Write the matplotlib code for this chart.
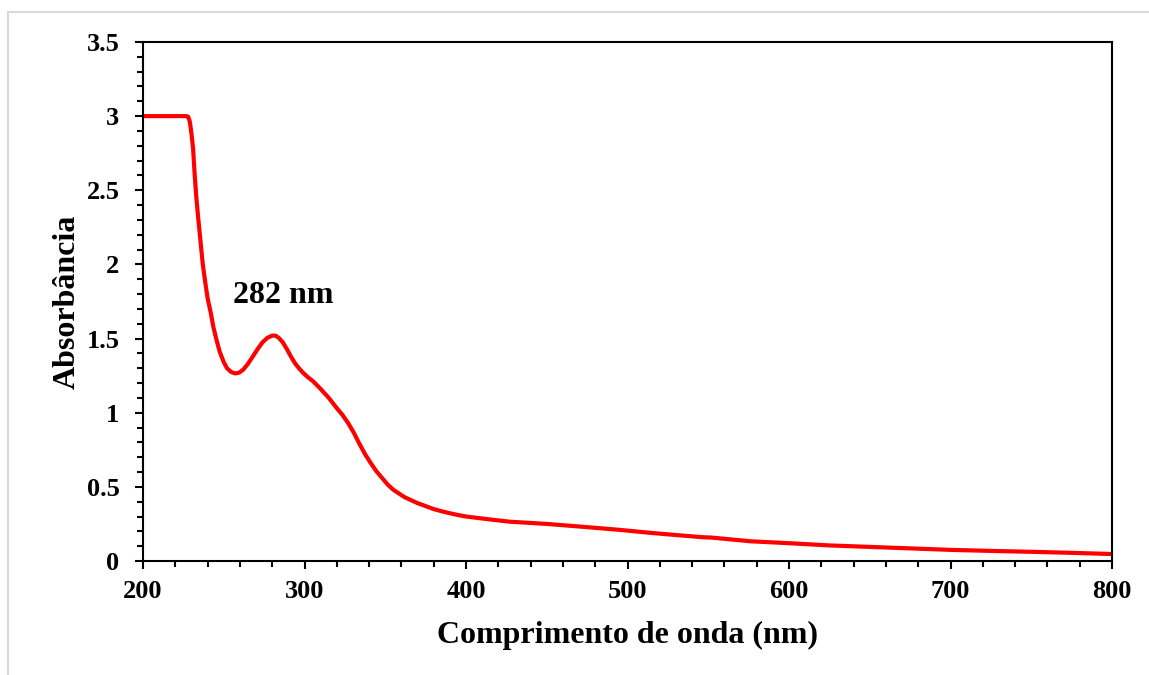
import matplotlib
matplotlib.use("Agg")
import matplotlib.pyplot as plt
from matplotlib.lines import Line2D
from matplotlib.ticker import MultipleLocator

# Spectrum (wavelength in nm, absorbance)
wavelength = [200, 215, 227, 228, 229, 230, 231, 232, 233, 234, 235, 236, 237,
              238.5, 240, 242, 243.5, 245.5, 247.5, 250, 252, 254.5, 257, 259.5,
              262, 265, 268, 271, 274, 277, 280, 282, 284, 286.5, 289, 291.5,
              294, 296.5, 299, 302, 305, 310, 315, 320, 323.5, 327, 330.5, 334,
              337.5, 341, 344.5, 348, 351.5, 355, 358.5, 362, 366, 370, 375,
              380, 385, 390, 395, 400, 415, 427, 450, 473, 495, 514, 530, 547,
              552, 576, 600, 625, 650, 675, 700, 725, 750, 775, 800]
absorbance = [3.0, 3.0, 3.0, 2.995, 2.96, 2.88, 2.78, 2.6, 2.45, 2.33, 2.22,
              2.11, 2.0, 1.88, 1.77, 1.67, 1.58, 1.49, 1.41, 1.34, 1.30, 1.275,
              1.265, 1.27, 1.29, 1.33, 1.38, 1.43, 1.475, 1.505, 1.52, 1.52,
              1.505, 1.475, 1.43, 1.38, 1.335, 1.30, 1.27, 1.24, 1.215, 1.16,
              1.10, 1.03, 0.985, 0.93, 0.865, 0.79, 0.72, 0.66, 0.605, 0.56,
              0.515, 0.48, 0.455, 0.43, 0.41, 0.39, 0.37, 0.35, 0.335, 0.322,
              0.31, 0.30, 0.28, 0.265, 0.25, 0.23, 0.21, 0.19, 0.175, 0.16,
              0.158, 0.133, 0.12, 0.105, 0.095, 0.085, 0.075, 0.068, 0.062,
              0.055, 0.047]

peak_label = "282 nm"
peak_pos = (286.7, 1.79)

plt.rcParams['font.family'] = ['Liberation Serif', 'DejaVu Serif']
plt.rcParams['font.weight'] = 'bold'

fig = plt.figure(figsize=(11.49, 6.75), dpi=100)
ax = fig.add_axes([0.1245, 0.1689, 0.8433, 0.7689])

ax.plot(wavelength, absorbance, color='#ff0000', lw=3,
        solid_joinstyle='round', solid_capstyle='butt')

ax.set_xlim(200, 800)
ax.set_ylim(0, 3.5)
ax.xaxis.set_major_locator(MultipleLocator(100))
ax.xaxis.set_minor_locator(MultipleLocator(20))
ax.yaxis.set_major_locator(MultipleLocator(0.5))
ax.yaxis.set_minor_locator(MultipleLocator(0.1))
ax.yaxis.set_major_formatter(plt.FuncFormatter(lambda v, p: f"{v:g}"))

ax.tick_params(which='both', direction='out', width=1.5, labelsize=19,
               top=False, right=False)
ax.tick_params(which='major', length=6)
ax.tick_params(which='minor', length=4)
ax.tick_params(axis='y', pad=11)
ax.tick_params(axis='x', pad=8)
for lab in ax.get_xticklabels() + ax.get_yticklabels():
    lab.set_fontweight('bold')
for s in ax.spines.values():
    s.set_linewidth(1.5)

ax.set_xlabel("Comprimento de onda (nm)", fontsize=23, fontweight='bold')
ax.set_ylabel("Absorbância", fontsize=23, fontweight='bold')
ax.xaxis.set_label_coords(0.5, -0.1426)
ax.yaxis.set_label_coords(-0.0784, 0.499)
ax.xaxis.label.set_va('center')
ax.yaxis.label.set_va('center')

ax.text(peak_pos[0], peak_pos[1], peak_label, fontsize=23, fontweight='bold',
        ha='center', va='center')

# light frame lines around the picture
fig.add_artist(Line2D([8 / 1149, 1], [1 - 12 / 675, 1 - 12 / 675],
                      color='#d9d9d9', lw=1.5, transform=fig.transFigure))
fig.add_artist(Line2D([8 / 1149, 8 / 1149], [0, 1 - 12 / 675],
                      color='#d9d9d9', lw=1.5, transform=fig.transFigure))

fig.savefig("out.png", dpi=100)
